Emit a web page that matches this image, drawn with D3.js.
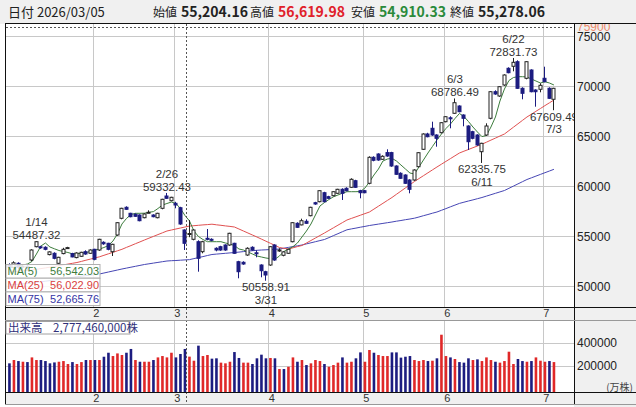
<!DOCTYPE html>
<html>
<head>
<meta charset="utf-8">
<title>日足チャート</title>
<script src="https://cdnjs.cloudflare.com/ajax/libs/d3/7.8.5/d3.min.js"></script>
<style>
  body { margin: 0; background: #fff; }
  text { font-family: "Liberation Sans", Arial, sans-serif; }
  .jp { font-family: "Noto Sans CJK JP", sans-serif; }
</style>
</head>
<body>
<svg id="chart" width="636" height="407"></svg>
<script>
// trading days (2026)
var dates = [
  "01/05","01/06","01/07","01/08","01/09","01/13","01/14","01/15","01/16","01/19","01/20","01/21","01/22","01/23","01/26","01/27","01/28","01/29","01/30",
  "02/02","02/03","02/04","02/05","02/06","02/09","02/10","02/12","02/13","02/16","02/17","02/18","02/19","02/20","02/24","02/25","02/26","02/27",
  "03/02","03/03","03/04","03/05","03/06","03/09","03/10","03/11","03/12","03/13","03/16","03/17","03/18","03/19","03/23","03/24","03/25","03/26","03/27","03/30","03/31",
  "04/01","04/02","04/03","04/06","04/07","04/08","04/09","04/10","04/13","04/14","04/15","04/16","04/17","04/20","04/21","04/22","04/23","04/24","04/27","04/28","04/30",
  "05/01","05/07","05/08","05/11","05/12","05/13","05/14","05/15","05/18","05/19","05/20","05/21","05/22","05/25","05/26","05/27","05/28","05/29",
  "06/01","06/02","06/03","06/04","06/05","06/08","06/09","06/10","06/11","06/12","06/15","06/16","06/17","06/18","06/19","06/22","06/23","06/24","06/25","06/26","06/29","06/30",
  "07/01","07/02","07/03"
];

var opens = [
  52100,51900,52300,51900,52000,52630,53960,53950,53900,53170,53300,52300,53270,53850,53270,52870,53000,53460,53300,
  53700,53630,54400,54300,53460,55130,56800,57900,57300,57200,57130,56860,57380,57130,56860,57800,59030,58560,
  58300,57860,55630,55204.16,54700,54460,53460,54800,54700,53800,53960,54130,54130,54300,52460,52400,53130,53900,53350,52130,51460,
  52130,54130,53600,53100,53300,54460,56300,56140,56500,57060,58360,58460,59360,58960,59060,59300,59700,59800,59900,60560,59560,
  59560,60300,62900,63230,62700,63370,63370,62030,61300,61130,60630,60630,61960,63700,65230,65800,65130,65360,
  66460,66850,67300,68030,67130,66030,65460,65130,63460,65130,66800,69460,69030,70130,71800,72000,72460,69800,70800,71630,69630,69700,
  70800,69800,68700
];
var highs = [
  52300,52500,52400,52200,52200,53700,54487.32,54050,54000,53500,53400,52950,53850,53950,53350,53400,53450,53600,53700,
  53750,54750,54500,54350,54250,56400,57850,58000,57350,57300,57200,57300,57600,57200,57350,58750,59332.43,58950,
  58450,57950,55700,56619.98,55700,54600,54550,55730,54800,53900,54050,54200,55350,54350,52550,52500,53900,54000,53600,52200,51550,
  54000,54200,53800,53500,53750,56400,56400,56760,56700,57950,58450,59600,59450,59050,59500,59750,59800,59900,60800,60650,59650,
  59650,63000,63000,63300,63100,63700,63450,62100,61400,61200,60700,61700,63400,65300,65350,66460,65200,66400,
  67000,67000,68786.49,68100,67200,66100,65550,65200,64350,66300,69500,69600,70000,71200,71900,72831.73,72600,69900,72500,71700,69700,70300,
  71960,69900,69850
];
var lows = [
  51600,51800,51700,51500,51600,52500,53900,53750,53600,53100,52700,52200,53200,53750,52900,52800,52950,53150,53250,
  52600,53550,54150,53600,53030,55050,56700,57650,56900,56950,56500,56800,57300,56900,56800,57700,58750,58500,
  57800,56150,53630,54910.33,54600,51460,53300,54600,54500,53500,53550,53550,54050,53250,50800,52150,53050,53550,52900,50900,50558.91,
  52050,52550,53450,53000,53250,54400,55850,56100,56250,57000,58150,58400,58400,58750,59000,59250,58630,59500,59850,59850,58800,
  59300,60200,62500,62550,62650,62950,61950,61150,60750,60250,59300,60550,61900,63650,64900,65050,63960,65300,
  66400,65800,67250,67400,66000,63630,64700,64050,62335.75,65050,66700,69150,68950,70050,71300,71500,69750,68700,70700,69400,67960,69400,
  70400,68750,67609.49
];
var closes = [
  51900,52350,51900,52000,51800,53630,54460,53850,53700,53440,52800,52900,53700,53870,52940,53330,53400,53230,53630,
  52700,54700,54250,53700,54200,56360,57800,57700,56960,57000,56560,57230,57400,56960,57300,58700,58800,58900,
  58130,56230,54300,55278.06,55630,52800,54460,54700,54650,53630,53630,53630,55300,53300,51460,52230,53800,53630,53330,51560,51130,
  53960,52630,53630,53440,53700,56360,55900,56560,56300,57900,58230,59560,58460,58800,59460,59700,59300,59560,60700,59900,59360,
  59360,62900,62600,62630,63000,63030,62030,61200,60800,60300,59700,61630,63360,65230,64960,65130,64800,66360,
  66960,66800,68360,67460,66800,64460,64800,64130,64300,66030,69460,69230,69960,71130,71360,72400,69800,69300,72460,69460,69460,70100,
  70460,68800,69800
];
// volume, 万株
var volumes = [
  219000,248000,239000,233000,230000,271000,248000,248000,239000,219000,227000,233000,239000,213000,230000,213000,230000,248000,248000,
  248000,248000,277000,312000,283000,306000,292000,312000,345000,248000,233000,233000,233000,248000,271000,283000,271000,312000,
  271000,301000,345000,277746,242000,374000,283000,292000,260000,263000,225000,219000,233000,318000,266000,225000,225000,213000,263000,295000,263000,
  266000,263000,169000,169000,189000,271000,233000,248000,204000,219000,248000,239000,213000,189000,204000,225000,271000,225000,233000,263000,315000,
  233000,336000,312000,292000,283000,283000,315000,315000,269000,277000,283000,248000,239000,248000,239000,242000,263000,470000,
  283000,271000,257000,230000,225000,263000,248000,254000,239000,271000,248000,233000,225000,239000,321000,213000,257000,239000,233000,239000,271000,242000,
  233000,239000,230000
];
var ma5 = [
  51830,51930,52030,52130,52230,52480,53230,54030,54330,53930,53750,53580,53480,53380,53250,53260,53300,53360,53490,
  53630,53730,53880,54080,54530,55230,56230,56780,57180,57300,57300,57310,57400,57470,57780,58130,58280,58430,
  58280,57780,57080,56542.03,55530,54980,54680,54460,54460,54460,54460,54330,54230,54080,53730,53630,53430,53230,53030,52930,52830,
  52760,52710,53030,53480,53730,53960,54330,54930,55530,56230,57130,58030,58380,58680,58950,59130,59310,59460,59460,59460,59480,
  59830,60430,61130,61730,62530,62730,62800,62530,62130,61730,61330,61230,61930,62630,63330,63980,64630,65230,
  65780,66230,66780,67280,66980,66480,65930,65430,64970,65080,65930,66930,68530,69730,70580,70880,70960,70960,70930,70730,70530,70330,
  70460,70330,70130
];
var ma25 = [
  51430,51470,51510,51550,51590,51630,51700,51770,51840,51910,51980,52060,52140,52220,52300,52380,52490,52610,52720,
  52840,52950,53100,53250,53400,53550,53700,53890,54070,54260,54440,54630,54810,54990,55170,55350,55530,55630,
  55730,55830,55930,56022.90,56060,56100,56140,56170,56210,56150,56100,56040,55990,55930,55730,55530,55330,55130,54930,54720,54510,
  54300,54090,53880,53800,53720,53850,53970,54080,54330,54580,54830,55080,55330,55590,55850,56110,56370,56630,56790,56950,57110,
  57270,57430,57720,58010,58300,58590,58880,59200,59520,59840,60160,60480,60770,61060,61350,61640,61930,62210,
  62490,62770,63050,63330,63510,63680,63860,64030,64210,64410,64620,64820,65030,65230,65570,65910,66250,66590,66930,67210,67500,67780,
  68070,68350,68630
];
var ma75 = [
  50130,50170,50210,50250,50290,50330,50390,50450,50510,50570,50630,50700,50760,50830,50890,50960,51010,51070,51120,
  51180,51230,51330,51430,51530,51630,51730,51820,51910,52000,52090,52180,52250,52320,52390,52460,52530,52560,
  52580,52610,52640,52665.76,52770,52870,52970,53080,53180,53220,53260,53300,53340,53380,53420,53470,53510,53560,53600,53630,53650,
  53680,53700,53730,53810,53890,53970,54050,54130,54240,54350,54460,54570,54680,54870,55070,55260,55460,55650,55740,55820,55910,
  55990,56080,56150,56220,56290,56360,56430,56510,56580,56660,56730,56810,56930,57060,57180,57310,57430,57600,
  57770,57950,58120,58290,58410,58530,58640,58760,58880,59020,59160,59300,59440,59580,59800,60020,60240,60460,60680,60850,61020,61190,
  61360,61530,61700
];
var priceTicks = [50000, 55000, 60000, 65000, 70000, 75000];
var volTicks = [200000, 400000];
var markHigh = ["01/14", "02/26", "06/03", "06/22"];
var markLow = ["03/31", "06/11", "07/03"];
var cursorDate = "03/05";
var cursorPrice = 75900;

var svg = d3.select("#chart");
var plotL = 6, plotR = 574, mainT = 24, mainB = 307, volT = 320, volB = 392, bandB = 404;
var n = dates.length;
var gray = "#f0f0f0", grid = "#c8c8c8", navy = "#1c1c80", red = "#e02828";

var x = d3.scaleBand().domain(dates).range([7.2, 7.2 + n * 4.5]);
var cx = function(d) { return x(d) + x.bandwidth() / 2; };
var y = d3.scaleLinear().domain([48000, 75000]).range([306.3, 36.3]);
var yv = d3.scaleLinear().domain([0, 400000]).range([388.3, 342.7]);

// month starts
var monthStarts = dates.filter(function(d, i) { return i > 0 && d.slice(0, 2) !== dates[i - 1].slice(0, 2); });

// backgrounds
svg.append("rect").attr("width", 636).attr("height", 407).attr("fill", "#fff");
svg.append("rect").attr("x", plotR).attr("y", mainT).attr("width", 636 - plotR).attr("height", 407 - mainT).attr("fill", gray);
svg.append("rect").attr("x", plotL).attr("y", mainB).attr("width", 636 - plotL).attr("height", volT - mainB).attr("fill", gray);
svg.append("rect").attr("x", plotL).attr("y", volB).attr("width", 636 - plotL).attr("height", bandB - volB).attr("fill", gray);

// grid
var gGrid = svg.append("g").attr("stroke", grid).attr("stroke-width", 1);
gGrid.selectAll("line.h").data(priceTicks).join("line")
  .attr("x1", plotL).attr("x2", plotR)
  .attr("y1", function(d) { return Math.round(y(d)) + 0.5; }).attr("y2", function(d) { return Math.round(y(d)) + 0.5; });
gGrid.selectAll("line.vh").data(volTicks).join("line")
  .attr("x1", plotL).attr("x2", plotR)
  .attr("y1", function(d) { return Math.round(yv(d)) + 0.5; }).attr("y2", function(d) { return Math.round(yv(d)) + 0.5; });
gGrid.selectAll("line.v").data(monthStarts).join("line")
  .attr("x1", function(d) { return Math.round(x(d)) + 0.5; }).attr("x2", function(d) { return Math.round(x(d)) + 0.5; })
  .attr("y1", mainT).attr("y2", mainB);
gGrid.selectAll("line.vv").data(monthStarts).join("line")
  .attr("x1", function(d) { return Math.round(x(d)) + 0.5; }).attr("x2", function(d) { return Math.round(x(d)) + 0.5; })
  .attr("y1", volT).attr("y2", volB);

// clips
svg.append("clipPath").attr("id", "clipMain").append("rect")
  .attr("x", plotL).attr("y", mainT).attr("width", plotR - plotL).attr("height", mainB - mainT);
svg.append("clipPath").attr("id", "clipVol").append("rect")
  .attr("x", plotL).attr("y", volT).attr("width", plotR - plotL).attr("height", volB - volT);

var gMain = svg.append("g").attr("clip-path", "url(#clipMain)");

// moving averages
var maList = [[ma75, "#4646b4"], [ma25, "#e05050"], [ma5, "#3d7d3d"]];
maList.forEach(function(m) {
  var arr = m[0];
  gMain.append("path")
    .attr("fill", "none").attr("stroke", m[1]).attr("stroke-width", 1)
    .attr("d", d3.line().x(function(i) { return cx(dates[i]); }).y(function(i) { return y(arr[i]); })(d3.range(n)));
});

// candles
var idx = d3.range(n);
var cg = gMain.append("g");
cg.selectAll("line").data(idx).join("line")
  .attr("x1", function(i) { return Math.floor(cx(dates[i])) + 0.5; })
  .attr("x2", function(i) { return Math.floor(cx(dates[i])) + 0.5; })
  .attr("y1", function(i) { return y(highs[i]); })
  .attr("y2", function(i) { return y(lows[i]); })
  .attr("stroke", function(i) { return closes[i] >= opens[i] ? "#222" : navy; });
cg.selectAll("rect").data(idx).join("rect")
  .attr("x", function(i) { return Math.floor(cx(dates[i])) - 1; })
  .attr("width", 3)
  .attr("y", function(i) { return y(Math.max(opens[i], closes[i])); })
  .attr("height", function(i) { return Math.max(1, Math.abs(y(opens[i]) - y(closes[i]))); })
  .attr("fill", function(i) { return closes[i] >= opens[i] ? "#fff" : navy; })
  .attr("stroke", function(i) { return closes[i] >= opens[i] ? "#222" : navy; })
  .attr("stroke-width", 1);

// high / low annotations
var fmt2 = d3.format(".2f");
function shortDate(d) { return (+d.slice(0, 2)) + "/" + (+d.slice(3)); }
var ann = gMain.append("g").attr("font-size", 11.5).attr("fill", "#333").attr("text-anchor", "middle");
markHigh.forEach(function(d) {
  var i = dates.indexOf(d), yy = y(highs[i]);
  ann.append("text").attr("x", cx(d)).attr("y", yy - 6.5).attr("dy", "0.35em").text(fmt2(highs[i]));
  ann.append("text").attr("x", cx(d)).attr("y", yy - 19).attr("dy", "0.35em").text(shortDate(d));
});
markLow.forEach(function(d) {
  var i = dates.indexOf(d), yy = y(lows[i]);
  ann.append("text").attr("x", cx(d)).attr("y", yy + 6.5).attr("dy", "0.35em").text(fmt2(lows[i]));
  ann.append("text").attr("x", cx(d)).attr("y", yy + 19).attr("dy", "0.35em").text(shortDate(d));
});

// volume bars
var gVol = svg.append("g").attr("clip-path", "url(#clipVol)");
gVol.selectAll("rect").data(idx).join("rect")
  .attr("x", function(i) { return cx(dates[i]) - 1.3; })
  .attr("width", 2.6)
  .attr("y", function(i) { return yv(volumes[i]); })
  .attr("height", function(i) { return volB - yv(volumes[i]); })
  .attr("fill", function(i) {
    var prev = i > 0 ? closes[i - 1] : opens[i];
    return closes[i] >= prev ? red : navy;
  });

// crosshair
var ci = dates.indexOf(cursorDate);
var crossX = Math.round(x(cursorDate)) - 0.5;
svg.append("line").attr("x1", crossX).attr("x2", crossX).attr("y1", mainT).attr("y2", bandB)
  .attr("stroke", "#555").attr("stroke-dasharray", "2,2");
svg.append("line").attr("x1", plotL).attr("x2", plotR).attr("y1", Math.round(y(cursorPrice)) + 0.5).attr("y2", Math.round(y(cursorPrice)) + 0.5)
  .attr("stroke", "#555").attr("stroke-dasharray", "2,2");

// y axes
var yAxis = svg.append("g").attr("transform", "translate(" + plotR + ",0)")
  .call(d3.axisRight(y).tickValues(priceTicks).tickSize(0).tickPadding(3).tickFormat(d3.format("d")));
yAxis.select(".domain").remove();
yAxis.selectAll("text").attr("font-size", 12).attr("fill", "#222").attr("font-family", "Liberation Sans, Arial, sans-serif");
svg.append("text").attr("x", plotR + 3).attr("y", y(cursorPrice) - 1).attr("dy", "0.35em")
  .attr("font-size", 12).attr("fill", "#ef8a6a").text(cursorPrice);

var vAxis = svg.append("g").attr("transform", "translate(" + plotR + ",0)")
  .call(d3.axisRight(yv).tickValues(volTicks).tickSize(0).tickPadding(3).tickFormat(d3.format("d")));
vAxis.select(".domain").remove();
vAxis.selectAll("text").attr("font-size", 12).attr("fill", "#222").attr("font-family", "Liberation Sans, Arial, sans-serif");
svg.append("text").attr("class", "jp").attr("x", 633).attr("y", 387).attr("dy", "0.35em")
  .attr("text-anchor", "end").attr("font-size", 10).attr("fill", "#444").text("(万株)");

// month labels in both bands
[313, 398.5].forEach(function(yy) {
  svg.append("g").selectAll("text").data(monthStarts).join("text")
    .attr("x", function(d) { return x(d) + 0.5; }).attr("y", yy).attr("dy", "0.35em")
    .attr("font-size", 11).attr("fill", "#333")
    .text(function(d) { return +d.slice(0, 2); });
});

// frame lines
var frame = svg.append("g").attr("stroke", "#111").attr("stroke-width", 1).attr("fill", "none");
frame.append("line").attr("x1", plotL - 0.5).attr("x2", plotL - 0.5).attr("y1", mainT).attr("y2", bandB + 1);
frame.append("line").attr("x1", plotR + 0.5).attr("x2", plotR + 0.5).attr("y1", mainT).attr("y2", bandB);
[mainB, volT, volB, bandB].forEach(function(yy) {
  frame.append("line").attr("x1", plotL - 1).attr("x2", 636).attr("y1", yy + 0.5).attr("y2", yy + 0.5)
    .attr("stroke", yy === mainB || yy === volB ? "#111" : "#999");
});

// MA legend
var fmtC = d3.format(",.2f");
var legRows = [["MA(5)", ma5, "#3d7d3d"], ["MA(25)", ma25, "#d9413d"], ["MA(75)", ma75, "#3535a5"]];
var gLeg = svg.append("g");
legRows.forEach(function(r, k) {
  var top = 264.5 + k * 13.7;
  gLeg.append("rect").attr("x", plotL).attr("y", top).attr("width", 94).attr("height", 13.7)
    .attr("fill", "#fff").attr("fill-opacity", 0.85).attr("stroke", "#b0b0b0");
  gLeg.append("text").attr("x", plotL + 1.5).attr("y", top + 7).attr("dy", "0.35em")
    .attr("font-size", 11).attr("fill", r[2]).text(r[0]);
  gLeg.append("text").attr("x", plotL + 93).attr("y", top + 7).attr("dy", "0.35em")
    .attr("text-anchor", "end").attr("font-size", 11).attr("fill", r[2]).text(fmtC(r[1][ci]));
});

// volume legend
svg.append("rect").attr("x", plotL).attr("y", 321.5).attr("width", 124).attr("height", 12.5)
  .attr("fill", "#fff").attr("stroke", "#a0a0a0");
var vt = svg.append("text").attr("class", "jp").attr("y", 328).attr("dy", "0.35em").attr("font-size", 11.5).attr("fill", "#30307a");
vt.append("tspan").attr("x", plotL + 2).text("出来高");
vt.append("tspan").attr("x", plotL + 47).text(d3.format(",")(volumes[ci] * 10000) + "株");

// header
svg.append("rect").attr("width", 636).attr("height", mainT).attr("fill", gray);
svg.append("line").attr("x1", plotL - 1).attr("x2", 636).attr("y1", mainT - 0.5).attr("y2", mainT - 0.5).attr("stroke", "#111");
var head = svg.append("text").attr("class", "jp").attr("y", 12).attr("dy", "0.38em").attr("font-size", 13).attr("fill", "#222");
head.append("tspan").attr("x", 8).text("日付 2026/" + cursorDate);
var items = [
  ["始値", opens[ci], "#222", 153, 181],
  ["高値", highs[ci], "#e0202a", 250, 278],
  ["安値", lows[ci], "#2a8a3a", 351, 379],
  ["終値", closes[ci], "#222", 450, 478]
];
items.forEach(function(it) {
  head.append("tspan").attr("x", it[3]).attr("font-size", 12).text(it[0]);
  head.append("tspan").attr("x", it[4]).attr("font-weight", "bold").attr("font-size", 14).attr("fill", it[2]).text(fmtC(it[1]));
});
</script>
</body>
</html>
